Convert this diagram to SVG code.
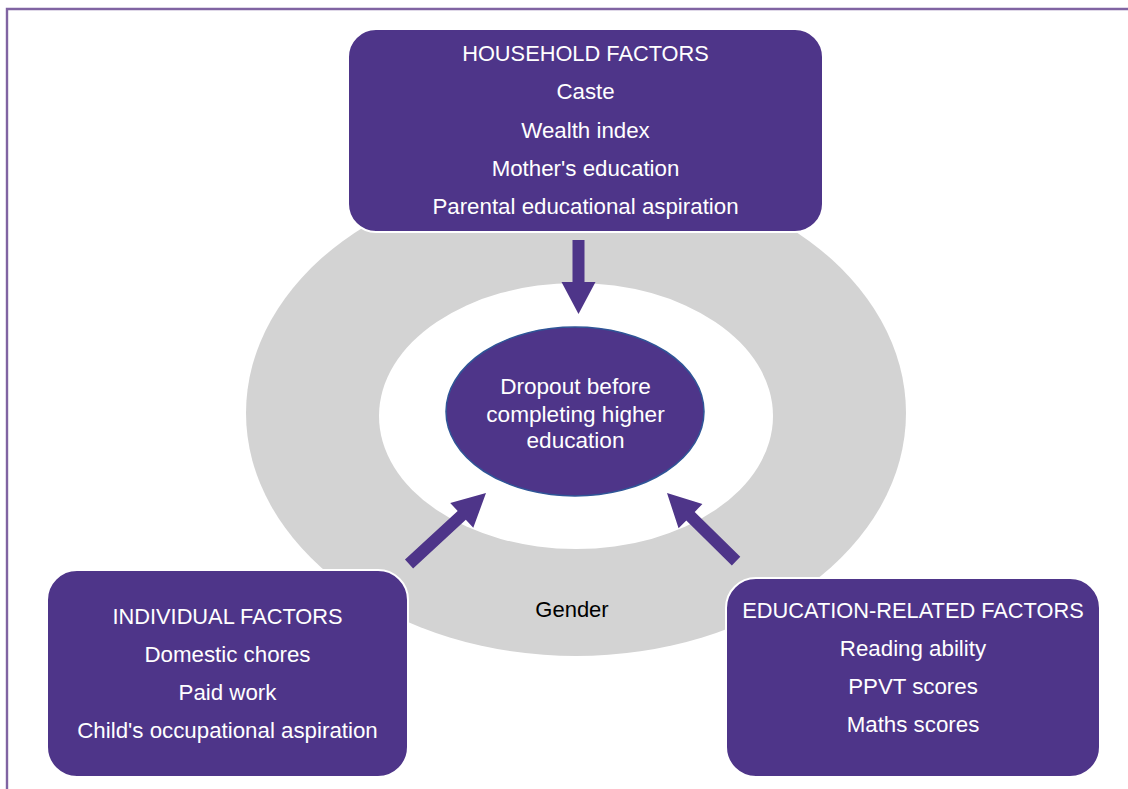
<svg xmlns="http://www.w3.org/2000/svg" width="1128" height="789" viewBox="0 0 1128 789">
<style>
.box{fill:#4E3589;stroke:#ffffff;stroke-width:2}
.t{font-family:"Liberation Sans",Arial,sans-serif;font-size:22.3px;fill:#ffffff;text-anchor:middle}
.h{font-size:21.8px}
.c{font-size:22.6px}
.g{font-family:"Liberation Sans",Arial,sans-serif;font-size:22px;fill:#000000;text-anchor:middle}
.arr{fill:#4E3589}
</style>
<rect width="1128" height="789" fill="#ffffff"/>
<path d="M7,789 V9 H1128" fill="none" stroke="#8064A2" stroke-width="2.4"/>
<g id="ring">
<ellipse cx="576" cy="413" rx="330" ry="243" fill="#D3D3D3"/>
<ellipse cx="576" cy="416" rx="197" ry="133" fill="#ffffff"/>
<text class="g" x="572" y="617">Gender</text>
</g>
<g id="connectors">
<polygon class="arr" transform="translate(578.5,314) rotate(90)" points="0,0 -32,-17 -32,-6 -74,-6 -74,6 -32,6 -32,17"/>
<polygon class="arr" transform="translate(486,493) rotate(-42.7)" points="0,0 -33,-17 -33,-6 -104.7,-6 -104.7,6 -33,6 -33,17"/>
<polygon class="arr" transform="translate(667,493) rotate(-135.4)" points="0,0 -33,-17 -33,-6 -97,-6 -97,6 -33,6 -33,17"/>
</g>
<g id="household">
<rect class="box" x="348" y="29" width="475" height="203" rx="28"/>
<text class="t h" x="585.5" y="61">HOUSEHOLD FACTORS</text>
<text class="t" x="585.5" y="99">Caste</text>
<text class="t" x="585.5" y="137.5">Wealth index</text>
<text class="t" x="585.5" y="176">Mother's education</text>
<text class="t" x="585.5" y="214">Parental educational aspiration</text>
</g>
<g id="outcome">
<ellipse cx="575" cy="411.5" rx="129" ry="84.5" fill="#4E3589" stroke="#2F5597" stroke-width="1.5"/>
<text class="t c" x="575.5" y="394">Dropout before</text>
<text class="t c" x="575.5" y="421.5">completing higher</text>
<text class="t c" x="575.5" y="448">education</text>
</g>
<g id="individual">
<rect class="box" x="47" y="570" width="361" height="207" rx="30"/>
<text class="t h" x="227.5" y="624">INDIVIDUAL FACTORS</text>
<text class="t" x="227.5" y="662">Domestic chores</text>
<text class="t" x="227.5" y="700">Paid work</text>
<text class="t" x="227.5" y="738">Child's occupational aspiration</text>
</g>
<g id="education">
<rect class="box" x="726" y="578" width="374" height="199" rx="30"/>
<text class="t h" x="913" y="617.5">EDUCATION-RELATED FACTORS</text>
<text class="t" x="913" y="656">Reading ability</text>
<text class="t" x="913" y="694">PPVT scores</text>
<text class="t" x="913" y="732">Maths scores</text>
</g>
</svg>
